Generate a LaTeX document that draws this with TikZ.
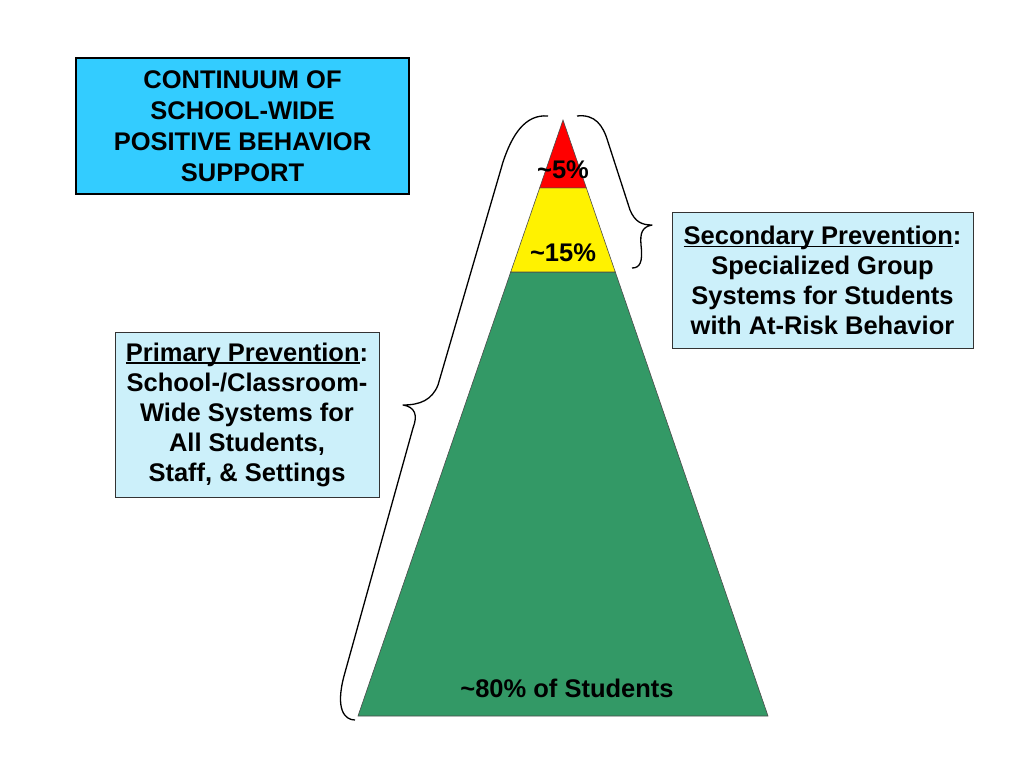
\documentclass[tikz,border=0pt]{standalone}
\usepackage{fontspec}
\setmainfont{Liberation Sans}
\usetikzlibrary{calc}
\definecolor{titleblue}{RGB}{51,204,255}
\definecolor{infoblue}{RGB}{204,240,250}
\definecolor{tiergreen}{RGB}{51,153,102}
\newcommand{\headline}[1]{\setbox0\hbox{#1}\rlap{\rule[-3pt]{\wd0}{1.6pt}}\box0}
\tikzset{
  title box/.style={draw=black, line width=2pt, fill=titleblue, align=center,
    minimum width=333pt, minimum height=136pt, inner sep=0pt,
    font=\fontsize{25.5}{31}\selectfont\bfseries},
  info box/.style={draw=black!80, line width=0.8pt, fill=infoblue, align=center,
    inner sep=0pt, font=\fontsize{25.5}{30}\selectfont\bfseries},
  tier label/.style={font=\fontsize{25.5}{28}\selectfont\bfseries, inner sep=1pt},
  tier/.style={draw=black!70, line width=0.6pt},
  brace line/.style={draw=black, line width=1.3pt, line join=round},
}
\begin{document}
\begin{tikzpicture}[x=1pt, y=-1pt]
        \useasboundingbox (0,0) rectangle (1024,768);
        % Pyramid corners
        \coordinate (apex) at (563,120);
        \coordinate (bl) at (358,716);
        \coordinate (br) at (768,716);
        \coordinate (l1) at ($(apex)!0.114!(bl)$);
        \coordinate (r1) at ($(apex)!0.114!(br)$);
        \coordinate (l2) at ($(apex)!0.255!(bl)$);
        \coordinate (r2) at ($(apex)!0.255!(br)$);
        % Tiers
        \path[tier, fill=tiergreen] (l2) -- (r2) -- (br) -- (bl) -- cycle;
        \path[tier, fill=yellow] (l1) -- (r1) -- (r2) -- (l2) -- cycle;
        \path[tier, fill=red] (apex) -- (r1) -- (l1) -- cycle;
        % Labels
        \node[tier label] (five) at (563,170) {\textasciitilde 5\%};
        \node[tier label] (fifteen) at (563,253) {\textasciitilde 15\%};
        \node[tier label] (eighty) at (567,688) {\textasciitilde 80\% of Students};
        % Boxes
        \node[title box] (title) at (242.5,126) {CONTINUUM OF\\SCHOOL-WIDE\\POSITIVE BEHAVIOR\\SUPPORT};
        \node[info box, minimum width=301pt, minimum height=136pt] (secondary) at (822.5,280)
          {\headline{Secondary Prevention}:\\Specialized Group\\Systems for Students\\with At-Risk Behavior};
        \node[info box, minimum width=264pt, minimum height=165pt] (primary) at (247,414.5)
          {\headline{Primary Prevention}:\\School-/Classroom-\\Wide Systems for\\All Students,\\Staff, \& Settings};
        % Braces
        \path[brace line] (548,116) .. controls (525,114) and (512,135) .. (503,162)
          -- (438,385) .. controls (432,400) and (420,405) .. (403,405)
          .. controls (415,407) and (418,415) .. (413,428)
          -- (344,676) .. controls (335,710) and (345,720) .. (355,720);
        \path[brace line] (577,116) .. controls (595,114) and (603,125) .. (608,142)
          -- (630,210) .. controls (635,222) and (642,225) .. (652,225)
          .. controls (642,227) and (640,233) .. (641,245)
          .. controls (643,262) and (640,268) .. (632,268);
\end{tikzpicture}
\end{document}
